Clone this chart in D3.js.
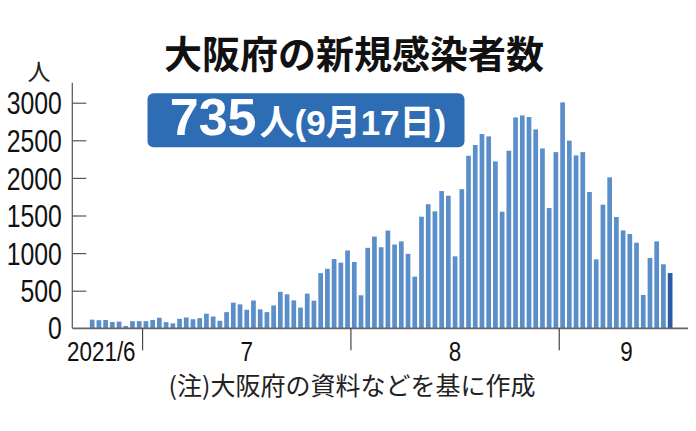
<!DOCTYPE html>
<html>
<head>
<meta charset="utf-8">
<script src="https://cdn.jsdelivr.net/npm/d3@7"></script>
<style>
  body { margin: 0; background: #fff; }
  svg { display: block; }
</style>
</head>
<body>
<div class="container"></div>
<script>
// daily new cases, Osaka, 2021-06-23 .. 2021-09-17
const juneCases = [115, 108, 110, 84, 89, 31, 95, 95];            // 6/23-6/30
const julyCases = [95, 111, 140, 82, 66, 126, 144, 120, 135, 195, 157, 100, 215, 341, 318, 246,
                   370, 252, 215, 304, 485, 452, 371, 275, 461, 368, 733, 791, 921, 873, 1035];
const augustCases = [882, 439, 1070, 1220, 1078, 1300, 1114, 1156, 990, 687, 1484, 1650, 1555, 1825, 1763, 957,
                     1850, 2295, 2437, 2583, 2552, 2219, 1551, 2361, 2804, 2831, 2809, 2645, 2392, 1599, 2343];
const septemberCases = [3004, 2496, 2299, 2343, 1812, 917, 1644, 2007, 1480, 1302, 1254, 1138, 443, 935, 1156, 851, 735];

const months = [
  { month: 6, firstDay: 23, label: "2021/6", values: juneCases },
  { month: 7, firstDay: 1, label: "7", values: julyCases },
  { month: 8, firstDay: 1, label: "8", values: augustCases },
  { month: 9, firstDay: 1, label: "9", values: septemberCases }
];
const yTicks = [0, 500, 1000, 1500, 2000, 2500, 3000];

const title = "大阪府の新規感染者数";
const highlightValue = "735";
const highlightText = "人(9月17日)";
const unitLabel = "人";
const note = "(注)大阪府の資料などを基に作成";

const width = 696;
const height = 431;

const data = [];
months.forEach(m => {
  m.values.forEach((v, i) => data.push({ key: `${m.month}/${m.firstDay + i}`, month: m.month, value: v }));
});
const lastKey = data[data.length - 1].key;

const svg = d3.select(".container").append("svg").attr("width", width).attr("height", height);

const x = d3.scaleBand()
    .domain(data.map(d => d.key))
    .range([87.8, 674.5])
    .paddingInner(0.3)
    .paddingOuter(0.3);

const y = d3.scaleLinear().domain([0, 3000]).range([328.3, 102.7]);

// narrow digits: no condensed face installed, so squeeze horizontally
const numFont = "'Liberation Sans', Arial, sans-serif";
const squeeze = 0.8;
const jpFont = "'Noto Sans CJK JP', 'Noto Sans', sans-serif";

// title
svg.append("text")
    .attr("x", 354).attr("y", 68)
    .attr("text-anchor", "middle")
    .style("font-family", jpFont).style("font-weight", 700).style("font-size", "38px")
    .attr("fill", "#111")
    .text(title);

// unit
svg.append("text")
    .attr("x", 39).attr("y", 80)
    .attr("text-anchor", "middle")
    .style("font-family", jpFont).style("font-size", "23px")
    .attr("fill", "#222")
    .text(unitLabel);

// bars
svg.append("g").selectAll("rect")
    .data(data)
    .enter().append("rect")
      .attr("x", d => x(d.key))
      .attr("width", x.bandwidth())
      .attr("y", d => y(d.value))
      .attr("height", d => y(0) - y(d.value))
      .attr("fill", d => d.key === lastKey ? "#2a5ca6" : "#5b8fca");

// y axis
const yAxis = svg.append("g")
    .attr("transform", "translate(72.3,0)")
    .call(d3.axisLeft(y).tickValues(yTicks.filter(t => t > 0)).tickFormat(d3.format("d"))
      .tickSize(-14).tickSizeOuter(0).tickPadding(10));
yAxis.select(".domain").remove();
yAxis.selectAll(".tick line").attr("stroke", "#555").attr("stroke-width", 1.2);
yAxis.selectAll(".tick text")
    .attr("x", -10.5 / squeeze)
    .attr("dy", "0.36em")
    .attr("transform", `scale(${squeeze},1)`)
    .style("font-family", numFont).style("font-size", "31px").attr("fill", "#111");
// zero label sits on the x axis
svg.append("text")
    .attr("x", 61.8 / squeeze).attr("y", y(0)).attr("dy", "0.36em")
    .attr("transform", `scale(${squeeze},1)`)
    .attr("text-anchor", "end")
    .style("font-family", numFont).style("font-size", "31px").attr("fill", "#111")
    .text(yTicks[0]);

svg.append("line")
    .attr("x1", 72.3).attr("x2", 72.3)
    .attr("y1", y.range()[0]).attr("y2", y.range()[1] - 20)
    .attr("stroke", "#555").attr("stroke-width", 1.2);

// x axis
svg.append("line")
    .attr("x1", 72.3).attr("x2", 688)
    .attr("y1", y(0)).attr("y2", y(0))
    .attr("stroke", "#666").attr("stroke-width", 1.8);

const boundary = m => x(`${m}/1`) - x.step() * x.paddingInner() / 2;
const xg = svg.append("g");
months.slice(1).forEach(m => {
  xg.append("line")
      .attr("x1", boundary(m.month)).attr("x2", boundary(m.month))
      .attr("y1", y(0)).attr("y2", y(0) + 22)
      .attr("stroke", "#444").attr("stroke-width", 1.2);
});

const labelX = m => {
  if (m.month === 6) return boundary(7) - 7;
  if (m.month === 9) return boundary(9) + x.step() * 10;
  return (boundary(m.month) + boundary(m.month + 1)) / 2;
};
xg.selectAll("text")
    .data(months)
    .enter().append("text")
      .attr("x", d => labelX(d) / squeeze)
      .attr("y", 361)
      .attr("transform", `scale(${squeeze},1)`)
      .attr("text-anchor", d => d.month === 6 ? "end" : "middle")
      .style("font-family", numFont).style("font-size", "28px").attr("fill", "#111")
      .text(d => d.label);

// highlight box
const box = svg.append("g");
box.append("rect")
    .attr("x", 147.5).attr("y", 93.3).attr("width", 317).attr("height", 54)
    .attr("rx", 6).attr("fill", "#2e6cb4");
const bt = box.append("text")
    .attr("x", 308).attr("y", 135)
    .attr("text-anchor", "middle")
    .attr("fill", "#fff")
    .style("font-family", "'Liberation Sans', 'Noto Sans CJK JP', sans-serif").style("font-weight", 700);
bt.append("tspan").style("font-size", "52px").text(highlightValue);
bt.append("tspan").attr("dx", 3).style("font-size", "35px").text(highlightText);

// note
svg.append("text")
    .attr("x", 352).attr("y", 395)
    .attr("text-anchor", "middle")
    .style("font-family", jpFont).style("font-size", "25px")
    .attr("fill", "#222")
    .text(note);
</script>
</body>
</html>
